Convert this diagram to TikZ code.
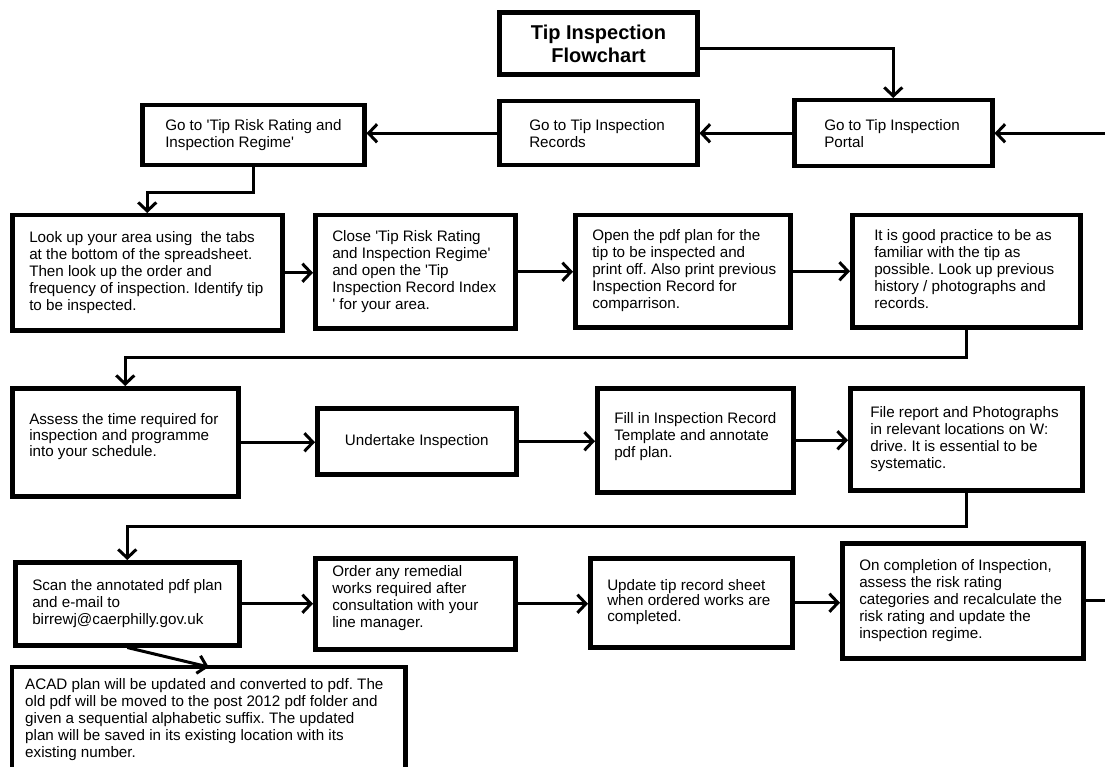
\documentclass[tikz,border=0pt]{standalone}
\usepackage{fontspec}
\setmainfont{Liberation Sans}
\usetikzlibrary{arrows.meta}
\frenchspacing
\newcommand\boxtxt[2]{\makebox[#1][l]{\begin{tabular}{@{}l@{}}#2\end{tabular}}}
\newcommand\q{\textquotesingle}
\begin{document}
\begin{tikzpicture}[x=1pt,y=-1pt,
  txt/.style={font=\fontsize{15.2}{17}\selectfont},
  box/.style={draw, line width=4.5pt, anchor=north west, inner ysep=0pt, txt},
  arr/.style={line width=3pt, -{Straight Barb[length=8.5pt,width=18pt]}},
  ln/.style={line width=3pt}]
\clip (0,0) rectangle (1105,767);
\fill[white] (0,0) rectangle (1105,767);
\coordinate (loopx) at (1125,0);

\node[box, align=center, line width=5pt, font=\fontsize{20}{23}\selectfont\bfseries, minimum width=198pt, minimum height=62pt] (title) at (497,10) {Tip Inspection\\Flowchart};

\node[box, minimum width=198pt, minimum height=66pt, inner xsep=30pt] (portal) at (792,98) {\boxtxt{138pt}{Go to Tip Inspection\\Portal\\[-4pt]}};
\node[box, minimum width=198pt, minimum height=64pt, inner xsep=30pt] (records) at (497,99) {\boxtxt{138pt}{Go to Tip Inspection\\Records\\[-4pt]}};
\node[box, minimum width=222pt, minimum height=60pt, inner xsep=23pt] (risk) at (140,103) {\boxtxt{176pt}{Go to \q Tip Risk Rating and\\Inspection Regime\q}};

\node[box, minimum width=270pt, minimum height=115pt, inner xsep=17pt] (lookup) at (10,213) {\boxtxt{236pt}{Look up your area using\ \ the tabs\\at the bottom of the spreadsheet.\\Then look up the order and\\frequency of inspection. Identify tip\\to be inspected.}};
\node[box, minimum width=200pt, minimum height=113pt, inner xsep=17pt] (close) at (313,213) {\boxtxt{166pt}{Close \q Tip Risk Rating\\and Inspection Regime\q\\and open the \q Tip\\Inspection Record Index\\\q\ for your area.}};
\node[box, minimum width=215pt, minimum height=112pt, inner xsep=17pt] (open) at (573,213) {\boxtxt{181pt}{Open the pdf plan for the\\tip to be inspected and\\print off. Also print previous\\Inspection Record for\\comparrison.}};
\node[box, minimum width=228pt, minimum height=112pt, inner xsep=22pt] (good) at (850,213) {\boxtxt{184pt}{It is good practice to be as\\familiar with the tip as\\possible. Look up previous\\history / photographs and\\records.}};

\node[box, font=\fontsize{15.2}{15.5}\selectfont, minimum width=226pt, minimum height=108pt, inner xsep=17pt] (assess) at (10,386) {\boxtxt{192pt}{Assess the time required for\\inspection and programme\\into your schedule.\\[10pt]}};
\node[box, align=center, minimum width=199pt, minimum height=66pt] (under) at (315,406) {Undertake Inspection};
\node[box, minimum width=196pt, minimum height=104pt, inner xsep=17pt] (fill) at (595,386) {\boxtxt{162pt}{Fill in Inspection Record\\Template and annotate\\pdf plan.\\[6pt]}};
\node[box, minimum width=232pt, minimum height=102pt, inner xsep=20pt] (file) at (848,386) {\boxtxt{192pt}{File report and Photographs\\in relevant locations on W:\\drive. It is essential to be\\systematic.}};

\node[box, minimum width=224pt, minimum height=83pt, inner xsep=17pt] (scan) at (13,560) {\boxtxt{190pt}{Scan the annotated pdf plan\\and e-mail to\\birrewj@caerphilly.gov.uk}};
\node[box, minimum width=200pt, minimum height=91pt, inner xsep=17pt] (order) at (313,556) {\boxtxt{166pt}{Order any remedial\\works required after\\consultation with your\\line manager.\\[10pt]}};
\node[box, font=\fontsize{15.2}{15.5}\selectfont, minimum width=202pt, minimum height=89pt, inner xsep=17pt] (update) at (588,556) {\boxtxt{168pt}{Update tip record sheet\\when ordered works are\\completed.}};
\node[box, minimum width=241pt, minimum height=115pt, inner xsep=17pt] (oncomp) at (840,541) {\boxtxt{207pt}{On completion of Inspection,\\assess the risk rating\\categories and recalculate the\\risk rating and update the\\inspection regime.}};

\node[anchor=north west, inner ysep=0pt, txt, minimum width=393pt, minimum height=106pt, inner xsep=13pt] (acad) at (12,667) {\boxtxt{367pt}{ACAD plan will be updated and converted to pdf. The\\old pdf will be moved to the post 2012 pdf folder and\\given a sequential alphabetic suffix. The updated\\plan will be saved in its existing location with its\\existing number.}};
\draw[line width=4.5pt] (acad.south west) -- (acad.north west) -- (acad.north east) -- (acad.south east);

% connectors
\draw[arr] ([yshift=-5pt]title.east) -| (portal.north);
\draw[arr] (portal.west) -- (portal.west -| records.east);
\draw[arr] (records.west) -- (records.west -| risk.east);
\draw[arr] (risk.south) -- ++(0,25) -| (lookup.north);
\draw[arr] (lookup.east) -- (lookup.east -| close.west);
\draw[arr] (close.east) -- (close.east -| open.west);
\draw[arr] (open.east) -- (open.east -| good.west);
\draw[arr] (good.south) -- ++(0,28) -| (assess.north);
\draw[arr] (assess.east) -- (assess.east -| under.west);
\draw[arr] (under.east) -- (under.east -| fill.west);
\draw[arr] (fill.east) -- (fill.east -| file.west);
\draw[arr] (file.south) -- ++(0,34) -| (scan.north);
\draw[arr] (scan.east) -- (scan.east -| order.west);
\draw[arr] (order.east) -- (order.east -| update.west);
\draw[arr] (update.east) -- (update.east -| oncomp.west);
\draw[arr] (oncomp.east) -- (oncomp.east -| loopx) |- (portal.east);
\draw[arr] (scan.south) -- (acad.north);
\end{tikzpicture}
\end{document}
